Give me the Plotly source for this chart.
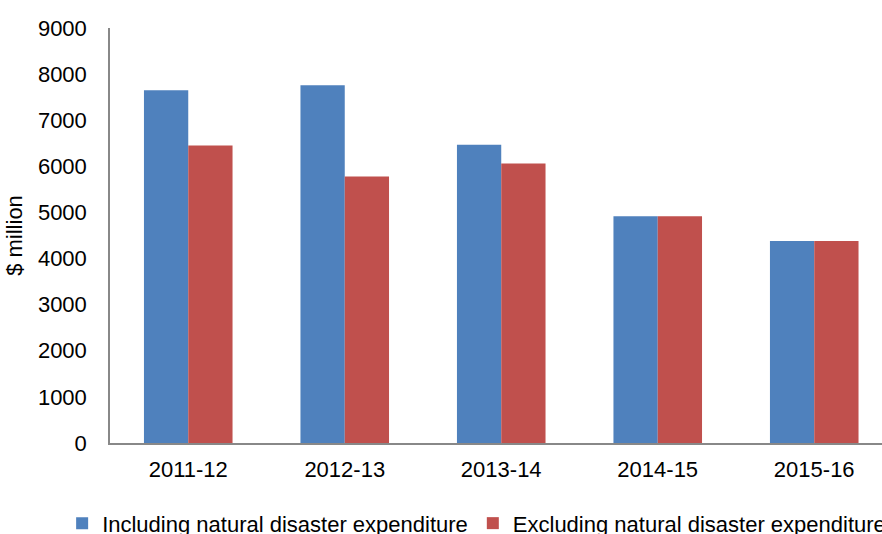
import plotly.graph_objects as go

categories = ["2011-12", "2012-13", "2013-14", "2014-15", "2015-16"]
including = [7650, 7760, 6470, 4920, 4380]
excluding = [6450, 5780, 6060, 4920, 4380]
series_names = ["Including natural disaster expenditure", "Excluding natural disaster expenditure"]
y_ticks = [0, 1000, 2000, 3000, 4000, 5000, 6000, 7000, 8000, 9000]

FONT = "Liberation Sans, Arial, sans-serif"

fig = go.Figure()
fig.add_trace(go.Bar(x=categories, y=including, name=series_names[0],
                     marker=dict(color="#4F81BD", line=dict(width=0))))
fig.add_trace(go.Bar(x=categories, y=excluding, name=series_names[1],
                     marker=dict(color="#C0504D", line=dict(width=0))))

fig.update_layout(
    width=882, height=534,
    margin=dict(l=110, r=0, t=28, b=91, autoexpand=False),
    paper_bgcolor="white", plot_bgcolor="white",
    barmode="group", bargap=0.434, bargroupgap=0,
    font=dict(family=FONT, size=22, color="black"),
    showlegend=True,
    legend=dict(orientation="h", x=-0.062, xanchor="left", y=-0.143, yanchor="top",
                font=dict(family=FONT, size=22, color="black"),
                bgcolor="rgba(0,0,0,0)", itemclick=False),
    xaxis=dict(type="category", range=[-0.5, 4.433], showline=True, linecolor="#888888",
               linewidth=1.5, showgrid=False, ticks="", ticklabelstandoff=6,
               tickfont=dict(family=FONT, size=22, color="black")),
    yaxis=dict(range=[0, 9000], tickvals=y_ticks, showline=True, linecolor="#888888",
               linewidth=1.5, showgrid=False, zeroline=False, ticks="",
               ticklabelstandoff=17,
               tickfont=dict(family=FONT, size=22, color="black"),
               title=dict(text="$ million", standoff=9,
                          font=dict(family=FONT, size=22, color="black"))),
)

fig.write_html("out.html", config={"displayModeBar": False},
               post_script="document.body.style.margin='0';document.body.style.overflow='hidden';")
